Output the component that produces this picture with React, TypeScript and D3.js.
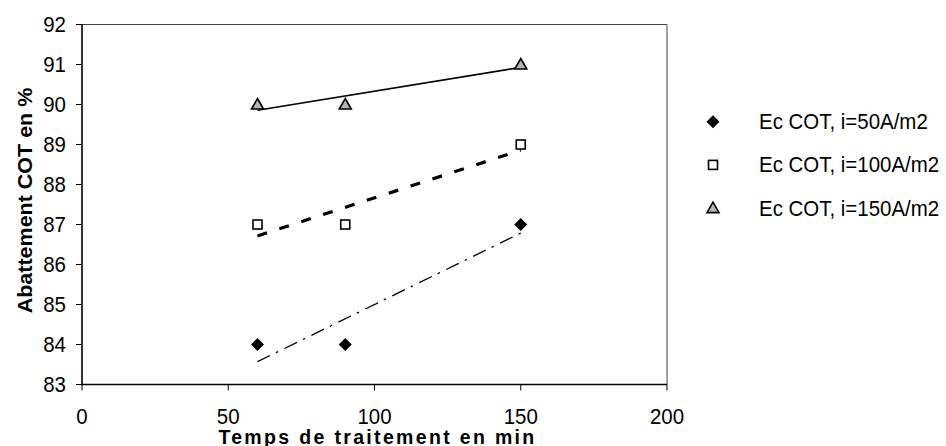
import React from 'react';
import * as d3 from 'd3';

// Time of treatment (min)
const times = [60, 90, 150];
// COT abatement (%) per current density
const cot50 = [84, 84, 87];
const cot100 = [87, 87, 89];
const cot150 = [90, 90, 91];

const xTicks = [0, 50, 100, 150, 200];
const yTicks = [83, 84, 85, 86, 87, 88, 89, 90, 91, 92];

const seriesNames = ['Ec COT, i=50A/m2', 'Ec COT, i=100A/m2', 'Ec COT, i=150A/m2'];

const W = 946;
const H = 446;
const margin = { left: 82, right: 279, top: 24.5, bottom: 61.5 };
const FONT = '"Liberation Sans", Arial, sans-serif';
const SQ = 0.93; // horizontal squash of the original picture

// least squares line, like the spreadsheet trendline
function fit(xs: number[], ys: number[]) {
  const mx = d3.mean(xs)!;
  const my = d3.mean(ys)!;
  let sxy = 0, sxx = 0;
  xs.forEach((x, i) => {
    sxy += (x - mx) * (ys[i] - my);
    sxx += (x - mx) * (x - mx);
  });
  const b = sxy / sxx;
  const a = my - b * mx;
  const x0 = d3.min(xs)!, x1 = d3.max(xs)!;
  return [[x0, a + b * x0], [x1, a + b * x1]] as [number, number][];
}

const Marker: React.FC<{ kind: number; x: number; y: number }> = ({ kind, x, y }) => {
  if (kind === 0) {
    return <path d={`M${x},${y - 6.5}L${x + 6.5},${y}L${x},${y + 6.5}L${x - 6.5},${y}Z`} fill="#000" />;
  }
  if (kind === 1) {
    return <rect x={x - 4.5} y={y - 4.5} width={9} height={9} fill="#fff" stroke="#000" strokeWidth={1.6} />;
  }
  return (
    <path
      d={`M${x},${y - 6}L${x + 6},${y + 4.5}L${x - 6},${y + 4.5}Z`}
      fill="#b4b4b4"
      stroke="#000"
      strokeWidth={1.6}
      strokeLinejoin="miter"
    />
  );
};

const App: React.FC = () => {
  const x = d3.scaleLinear().domain([0, 200]).range([margin.left, W - margin.right]);
  const y = d3.scaleLinear().domain([83, 92]).range([H - margin.bottom, margin.top]);
  const line = d3.line<[number, number]>().x(d => x(d[0])).y(d => y(d[1]));

  const series = [cot50, cot100, cot150];
  const lineStyles = [
    { width: 1.3, dash: '14 6.5 2.5 7' },
    { width: 3.2, dash: '10 13' },
    { width: 1.6, dash: undefined as string | undefined },
  ];

  const x0 = x(0), x1 = x(200), yb = y(83), yt = y(92);

  return (
    <svg
      width={W}
      height={H}
      style={{ position: 'absolute', left: 0, top: 0, background: '#fff', display: 'block' }}
      fontFamily={FONT}
    >
      <rect width={W} height={H} fill="#fff" />
      {/* frame */}
      <line x1={x0} x2={x1} y1={yt} y2={yt} stroke="#444" strokeWidth={1} />
      <line x1={x1} x2={x1} y1={yt} y2={yb} stroke="#444" strokeWidth={1} />
      <line x1={x0} x2={x0} y1={yt} y2={yb + 0.7} stroke="#000" strokeWidth={1.6} />
      <line x1={x0} x2={x1} y1={yb} y2={yb} stroke="#000" strokeWidth={1.6} />

      {/* y ticks */}
      {yTicks.map(t => (
        <g key={'y' + t}>
          <line x1={x0 - 6} x2={x0} y1={y(t)} y2={y(t)} stroke="#000" strokeWidth={1} />
          <text
            transform={`translate(${x0 - 16},${y(t) + 7.8}) scale(${SQ},1)`}
            textAnchor="end"
            fontSize={22}
            fill="#000"
          >
            {t}
          </text>
        </g>
      ))}

      {/* x ticks */}
      {xTicks.map(t => (
        <g key={'x' + t}>
          <line x1={x(t)} x2={x(t)} y1={yb} y2={yb + 6} stroke="#000" strokeWidth={1} />
          <text
            transform={`translate(${x(t)},${yb + 39.5}) scale(${SQ},1)`}
            textAnchor="middle"
            fontSize={22}
            fill="#000"
          >
            {t}
          </text>
        </g>
      ))}

      {/* axis titles */}
      <text
        transform={`translate(${(x0 + x1) / 2 + 3},${H - 2.5}) scale(${SQ},1)`}
        textAnchor="middle"
        fontSize={21}
        fontWeight="bold"
        letterSpacing={2.5}
      >
        Temps de traitement en min
      </text>
      <text
        transform={`translate(32,${(yt + yb) / 2 - 4}) scale(${SQ},1) rotate(-90)`}
        textAnchor="middle"
        fontSize={21.5}
        fontWeight="bold"
      >
        Abattement COT en %
      </text>

      {/* trendlines */}
      {series.map((s, i) => (
        <path
          key={'t' + i}
          d={line(fit(times, s)) || ''}
          fill="none"
          stroke="#000"
          strokeWidth={lineStyles[i].width}
          strokeDasharray={lineStyles[i].dash}
        />
      ))}

      {/* points */}
      {series.map((s, i) =>
        s.map((v, j) => <Marker key={`m${i}-${j}`} kind={i} x={x(times[j])} y={y(v)} />)
      )}

      {/* legend */}
      {seriesNames.map((name, i) => {
        const ly = 121.7 + i * 43.2;
        return (
          <g key={'l' + i}>
            <Marker kind={i} x={713} y={ly} />
            <text transform={`translate(759,${ly + 7.5}) scale(${SQ},1)`} fontSize={22} fill="#000">
              {name}
            </text>
          </g>
        );
      })}
    </svg>
  );
};

export default App;
